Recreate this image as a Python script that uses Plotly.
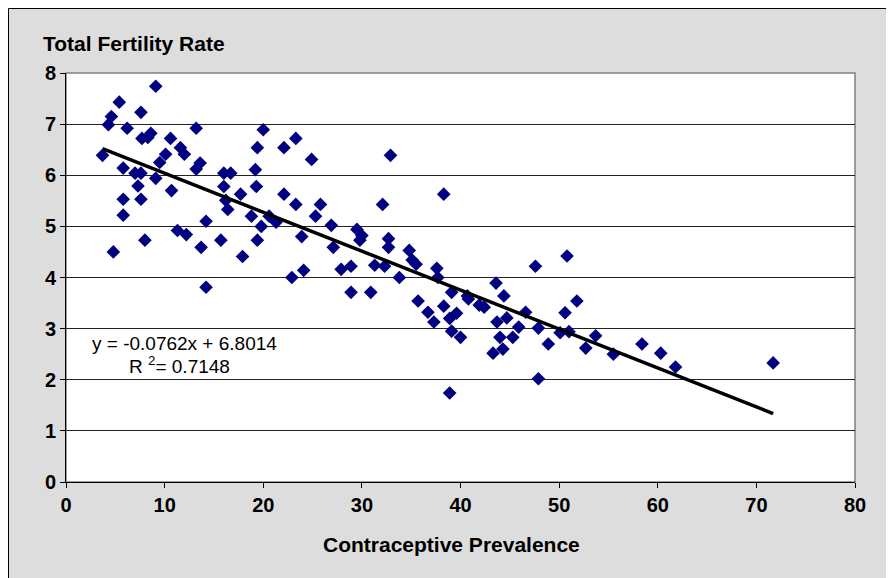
import plotly.graph_objects as go

# Contraceptive prevalence (%) per country
contraceptive = [
    3.7, 4.3, 4.6, 5.4, 4.8, 5.8, 5.8, 5.8, 6.2, 7.6,
    7.0, 7.6, 7.3, 7.6, 8.0, 7.7, 8.3, 8.6, 9.1, 9.1,
    9.5, 10.1, 10.6, 10.7, 11.3, 12.2, 11.6, 12.0, 13.2, 13.2,
    13.6, 13.7, 14.2, 14.2, 15.7, 16.0, 16.7, 16.0, 16.2, 16.4,
    17.7, 17.9, 18.8, 19.2, 19.4, 19.3, 19.4, 20.0, 19.8, 20.6,
    21.3, 22.1, 22.1, 23.3, 23.3, 22.9, 23.9, 24.1, 24.9, 25.8,
    25.3, 26.9, 27.1, 27.9, 28.9, 28.9, 29.5, 30.0, 29.8, 30.9,
    31.3, 32.3, 32.1, 32.9, 32.7, 32.7, 33.8, 34.8, 35.1, 35.5,
    35.7, 36.7, 37.3, 37.6, 37.7, 38.3, 38.3, 39.1, 39.6, 38.9,
    39.1, 40.0, 38.9, 40.8, 40.7, 41.9, 42.4, 43.6, 44.4, 43.7,
    44.7, 44.0, 44.3, 43.3, 45.3, 45.9, 46.6, 47.6, 47.9, 47.9,
    48.9, 50.1, 51.0, 50.6, 50.8, 51.8, 52.7, 53.7, 55.5, 58.4,
    60.3, 61.8, 71.7,
]
# Total fertility rate per country
fertility = [
    6.39, 6.99, 7.15, 7.43, 4.50, 6.14, 5.53, 5.22, 6.92, 7.23,
    6.04, 6.04, 5.79, 5.53, 4.73, 6.72, 6.74, 6.82, 7.74, 5.94,
    6.25, 6.41, 6.72, 5.70, 4.92, 4.84, 6.54, 6.41, 6.92, 6.12,
    6.24, 4.59, 5.10, 3.81, 4.73, 6.04, 6.04, 5.78, 5.51, 5.33,
    5.63, 4.41, 5.20, 6.11, 6.54, 5.78, 4.73, 6.89, 5.00, 5.20,
    5.08, 5.63, 6.54, 6.72, 5.43, 4.00, 4.80, 4.14, 6.31, 5.43,
    5.20, 5.02, 4.59, 4.16, 4.22, 3.71, 4.94, 4.82, 4.73, 3.71,
    4.24, 4.22, 5.43, 6.39, 4.76, 4.59, 4.00, 4.53, 4.34, 4.26,
    3.54, 3.32, 3.13, 4.18, 4.00, 5.63, 3.44, 3.71, 3.30, 3.20,
    2.95, 2.83, 1.74, 3.58, 3.64, 3.46, 3.42, 3.89, 3.64, 3.13,
    3.21, 2.83, 2.60, 2.52, 2.83, 3.03, 3.32, 4.22, 3.01, 2.02,
    2.70, 2.92, 2.94, 3.31, 4.42, 3.54, 2.62, 2.86, 2.50, 2.70,
    2.52, 2.25, 2.33,
]
# Linear trend coefficients (as shown in the chart)
trend_slope = -0.0762
trend_intercept = 6.8014
r_squared = 0.7148

x_ticks = [0, 10, 20, 30, 40, 50, 60, 70, 80]
y_ticks = [0, 1, 2, 3, 4, 5, 6, 7, 8]

trend_x = sorted(contraceptive)
trend_y = [trend_slope * v + trend_intercept for v in trend_x]

# page has an 8px body margin; figure fills the rest of the window
W, H = 886, 570
L, R, T, B = 58, 847, 65, 474
pw, ph = R - L, B - T


def px(sx):
    """screen x -> paper fraction"""
    return (sx - 8 - L) / pw


def py(sy):
    """screen y -> paper fraction"""
    return (B - (sy - 8)) / ph


FONT = "Liberation Sans, Arial, sans-serif"
font_bold = dict(family=FONT, size=20, color="black", weight="bold")

fig = go.Figure()
fig.add_trace(go.Scatter(
    x=contraceptive, y=fertility, mode="markers",
    marker=dict(symbol="diamond", size=10.5, color="#000080",
                line=dict(width=0)),
    hoverinfo="x+y", showlegend=False,
))
fig.add_trace(go.Scatter(
    x=trend_x, y=trend_y, mode="lines",
    line=dict(color="black", width=3.5),
    hoverinfo="skip", showlegend=False,
))

fig.update_layout(
    width=W, height=H,
    margin=dict(l=L, r=W - R, t=T, b=H - B, pad=0),
    paper_bgcolor="#DDDDDD",
    plot_bgcolor="white",
    font=dict(family=FONT, size=19, color="black"),
    xaxis=dict(
        range=[0, 80], tickvals=x_ticks, ticktext=[str(v) for v in x_ticks],
        showgrid=False, zeroline=False,
        showline=True, linecolor="black", linewidth=1,
        ticks="outside", ticklen=5, tickcolor="black",
        tickfont=font_bold, fixedrange=True,
    ),
    yaxis=dict(
        range=[0, 8], tickvals=y_ticks, ticktext=[str(v) for v in y_ticks],
        showgrid=True, gridcolor="#222222", gridwidth=1, zeroline=False,
        showline=True, linecolor="black", linewidth=1,
        ticks="outside", ticklen=5, tickcolor="black",
        tickfont=font_bold, fixedrange=True,
    ),
    shapes=[
        # chart area border
        dict(type="rect", xref="paper", yref="paper", layer="below",
             x0=px(8.5), x1=px(920), y0=py(620), y1=py(8.5),
             fillcolor="rgba(0,0,0,0)", line=dict(color="black", width=1)),
        # plot area border
        dict(type="rect", xref="paper", yref="paper", layer="below",
             x0=0, x1=1, y0=0, y1=1,
             fillcolor="rgba(0,0,0,0)", line=dict(color="#808080", width=1.5)),
    ],
    annotations=[
        dict(text="<b>Total Fertility Rate</b>", xref="paper", yref="paper",
             x=px(41), y=py(43), xanchor="left", yanchor="middle",
             showarrow=False, font=dict(size=21)),
        dict(text="<b>Contraceptive Prevalence</b>", xref="paper", yref="paper",
             x=px(451), y=py(544), xanchor="center", yanchor="middle",
             showarrow=False, font=dict(size=21)),
        dict(text=f"y = {trend_slope}x + {trend_intercept}", xref="paper", yref="paper",
             x=px(90), y=py(343), xanchor="left", yanchor="middle",
             showarrow=False, font=dict(size=19)),
        dict(text=f"R <sup>2</sup>= {r_squared}", xref="paper", yref="paper",
             x=px(127), y=py(365), xanchor="left", yanchor="middle",
             showarrow=False, font=dict(size=19)),
    ],
)

fig.write_html("out.html")
